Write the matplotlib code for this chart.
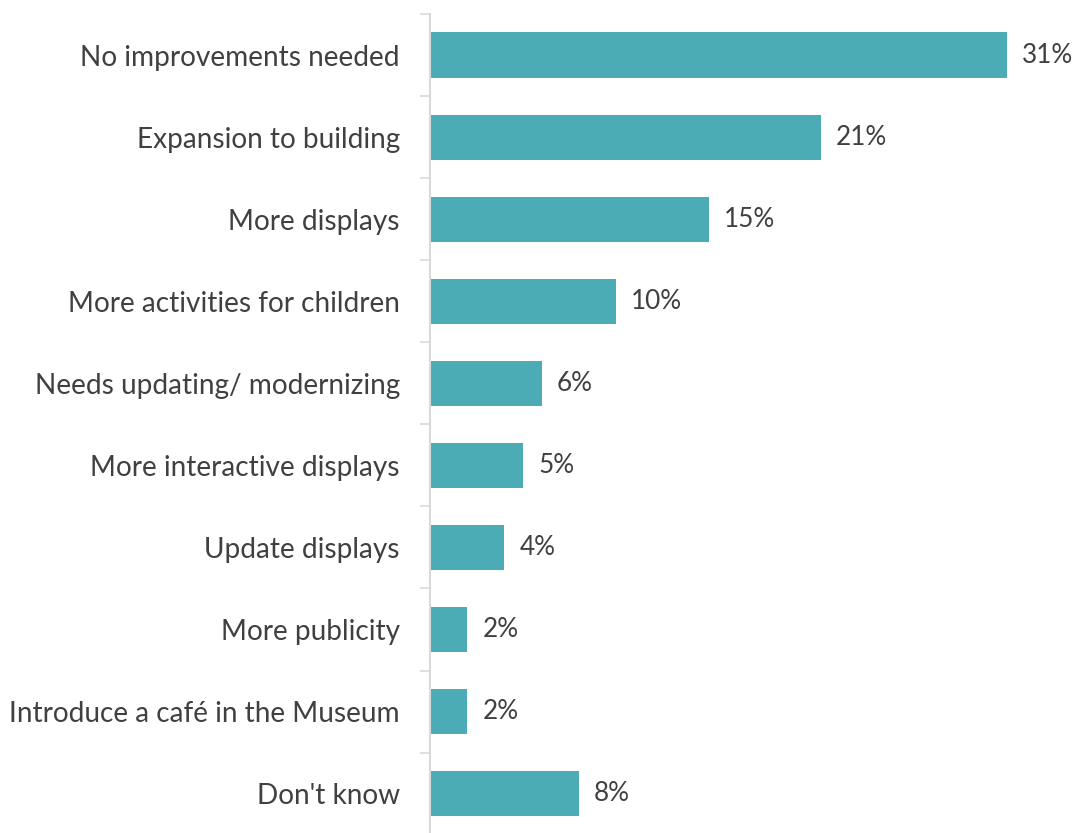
import matplotlib.pyplot as plt
import numpy as np

categories = [
    'No improvements needed',
    'Expansion to building',
    'More displays',
    'More activities for children',
    'Needs updating/ modernizing',
    'More interactive displays',
    'Update displays',
    'More publicity',
    'Introduce a café in the Museum',
    "Don't know",
]
percent = [31, 21, 15, 10, 6, 5, 4, 2, 2, 8]

BAR_COLOR = '#4BACB6'
TEXT_COLOR = '#404040'
AXIS_COLOR = '#D9D9D9'

plt.rcParams['font.family'] = ['Lato', 'DejaVu Sans']

fig = plt.figure(figsize=(10.8, 8.33), dpi=100)
ax = fig.add_axes([430 / 1080, -0.002, (1044 - 430) / 1080, 1 - 14 / 833 + 0.002])

y = np.arange(len(categories))
ax.barh(y, percent, height=0.55, color=BAR_COLOR)

for yi, v in zip(y, percent):
    ax.annotate(f'{v}%', (v, yi), xytext=(11, 0), textcoords='offset points',
                va='center', ha='left', fontsize=18.8, color=TEXT_COLOR)

ax.set_xlim(0, 33)
ax.set_ylim(len(categories) - 0.5, -0.5)

ax.set_yticks(y, categories)
ax.set_yticks(np.arange(len(categories) + 1) - 0.5, minor=True)
ax.tick_params(axis='y', which='major', length=0, pad=21.6,
               labelsize=20.2, labelcolor=TEXT_COLOR)
ax.tick_params(axis='y', which='minor', length=7.2, width=1.2, color=AXIS_COLOR)
ax.set_xticks([])

for side in ['top', 'right', 'bottom']:
    ax.spines[side].set_visible(False)
ax.spines['left'].set_color(AXIS_COLOR)
ax.spines['left'].set_linewidth(1.5)

fig.savefig('out.png', dpi=100)
